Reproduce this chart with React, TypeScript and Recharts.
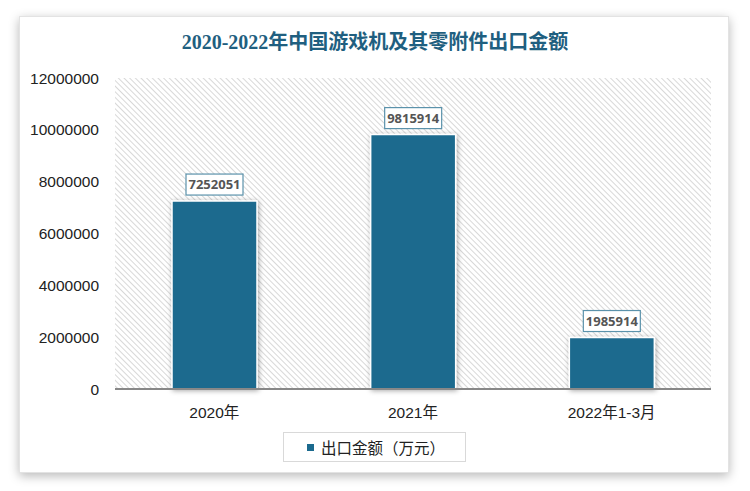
import React from 'react';
import { BarChart, Bar, XAxis, YAxis, CartesianGrid, LabelList } from 'recharts';

const categories = ['2020年', '2021年', '2022年1-3月'];
const exportValues = [7252051, 9815914, 1985914];
const yTicks = [0, 2000000, 4000000, 6000000, 8000000, 10000000, 12000000];
const seriesName = '出口金额（万元）';
const title = '2020-2022年中国游戏机及其零附件出口金额';

const data = categories.map((c, i) => ({ name: c, value: exportValues[i] }));

const BAR_COLOR = '#1b6a8e';
const FONT = '"Liberation Sans", "Noto Sans CJK SC", sans-serif';

const ValueLabel = (props: any) => {
  const { x, y, width, value } = props;
  const cx = x + width / 2;
  const w = 57;
  const h = 21;
  const top = y - 6 - h;
  return (
    <g>
      <rect x={cx - w / 2} y={top} width={w} height={h} fill="#fff" stroke="#5b92ab" strokeWidth={1.2} />
      <text x={cx} y={top + h / 2 + 1} textAnchor="middle" dominantBaseline="middle" fontSize={13} fontWeight="bold" fill="#555" fontFamily={'"Open Sans", "Noto Sans", sans-serif'}>
        {value}
      </text>
    </g>
  );
};

export default function App() {
  return (
    <div style={{ position: 'absolute', left: 0, top: 0, width: 750, height: 491, background: '#fff', overflow: 'hidden' }}>
      <div style={{ position: 'absolute', left: 19, top: 16, width: 710, height: 457, border: '1px solid #e3e3e3', boxSizing: 'border-box', boxShadow: '0 3px 10px rgba(0,0,0,0.28)', background: '#fff' }} />
      <div style={{ position: 'absolute', left: 0, top: 0 }}>
        <BarChart width={750} height={491} data={data} margin={{ top: 78, right: 39, bottom: 72, left: 0 }}>
          <defs>
            <pattern id="hatch" width="4" height="4" patternUnits="userSpaceOnUse" patternTransform="rotate(-45)">
              <rect width="4" height="4" fill="#fff" />
              <line x1="0" y1="0" x2="0" y2="4" stroke="#cfcfcf" strokeWidth="1.6" />
            </pattern>
            <filter id="barShadow" x="-20%" y="-20%" width="140%" height="140%">
              <feDropShadow dx="1" dy="1" stdDeviation="2.5" floodColor="#000" floodOpacity="0.35" />
            </filter>
          </defs>
          <text x={375} y={44} textAnchor="middle" dominantBaseline="middle" fontSize={20} fontWeight="bold" fill="#1f5f80" fontFamily={'"Liberation Serif", "Noto Sans CJK SC", serif'}>
            {title}
          </text>
          <CartesianGrid horizontal={false} vertical={false} fill="url(#hatch)" />
          <XAxis dataKey="name" height={30} axisLine={{ stroke: '#888', strokeWidth: 2 }} tickLine={false} tick={{ fontSize: 15.5, fill: '#222', fontFamily: FONT }} tickMargin={12} />
          <YAxis domain={[0, 12000000]} ticks={yTicks} width={115} axisLine={false} tickLine={false} tick={{ fontSize: 15.5, fill: '#222', fontFamily: FONT }} tickMargin={10} interval={0} />
          <Bar dataKey="value" name={seriesName} fill={BAR_COLOR} barSize={85} stroke="#fff" strokeWidth={1.5} isAnimationActive={false} style={{ filter: 'url(#barShadow)' }}>
            <LabelList dataKey="value" content={<ValueLabel />} />
          </Bar>
        </BarChart>
      </div>
      <div style={{ position: 'absolute', left: 283, top: 432, width: 183, height: 30, border: '1px solid #d9d9d9', boxSizing: 'border-box', display: 'flex', alignItems: 'center', fontFamily: FONT, fontSize: 15.5, color: '#222', background: '#fff' }}>
        <span style={{ display: 'inline-block', width: 7, height: 7, background: BAR_COLOR, marginLeft: 23, marginRight: 7 }} />
        <span>{seriesName}</span>
      </div>
    </div>
  );
}
